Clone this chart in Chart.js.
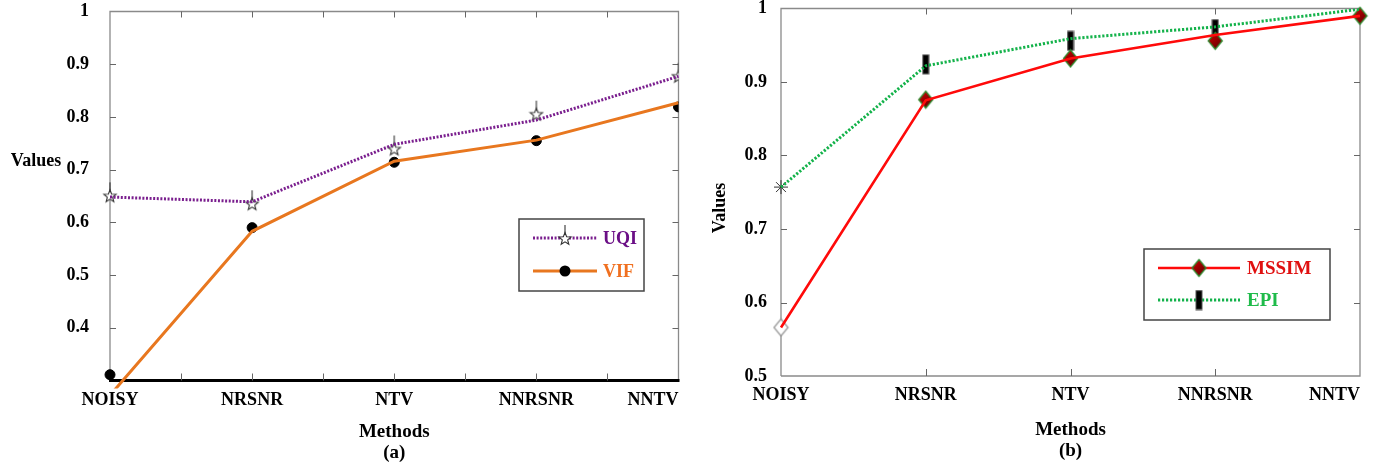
<!DOCTYPE html>
<html><head><meta charset="utf-8">
<script src="https://cdn.jsdelivr.net/npm/chart.js@4.4.1/dist/chart.umd.min.js"></script>
<style>
html,body{margin:0;padding:0;background:#fff;overflow:hidden;}
#ca{position:absolute;left:0;top:0;}
#cb{position:absolute;left:690px;top:0;}
</style></head><body>
<canvas id="ca" width="690" height="466"></canvas>
<canvas id="cb" width="685" height="466"></canvas>
<script>
// ---------- data ----------
const methods   = ['NOISY','NRSNR','NTV','NNRSNR','NNTV'];
// panel (a)
const uqiLine   = [0.648, 0.639, 0.748, 0.794, 0.877];
const uqiMarks  = [0.655, 0.640, 0.744, 0.810, 0.882];
const vifLine   = [0.272, 0.583, 0.716, 0.756, 0.827];
const vifMarks  = [0.311, 0.590, 0.714, 0.755, 0.819];
// panel (b)
const mssimLine  = [0.566, 0.875, 0.932, 0.964, 0.990];
const mssimMarks = [0.566, 0.876, 0.932, 0.956, 0.990];
const epiLine    = [0.757, 0.922, 0.959, 0.975, 0.999];
const epiMarks   = [0.757, 0.924, 0.956, 0.972, 0.999];
// tick marks
const yTickMarksA = [0.4, 0.5, 0.6, 0.7, 0.8, 0.9];
const xTickMarksA = [0.5, 1, 1.5, 2, 2.5, 3, 3.5];
const yTickMarksB = [0.6, 0.7, 0.8, 0.9];
const xTickMarksB = [1, 2, 3];

const SERIF = "'Liberation Serif','DejaVu Serif',serif";

// ---------- marker images ----------
function starImg(){
  const c=document.createElement('canvas'); c.width=16; c.height=24;
  const g=c.getContext('2d'); const cx=8, cy=15, R=6.5, r=2.8;
  g.beginPath();
  for(let i=0;i<10;i++){const a=-Math.PI/2+i*Math.PI/5; const rr=i%2?r:R; g.lineTo(cx+rr*Math.cos(a), cy+rr*Math.sin(a));}
  g.closePath(); g.fillStyle='#fff'; g.fill(); g.strokeStyle='#333'; g.lineWidth=1.1; g.stroke();
  g.beginPath(); g.moveTo(8,1); g.lineTo(8,9); g.stroke();
  return c;
}
function diamondImg(w,h,grad,fill,stroke){
  const c=document.createElement('canvas'); c.width=w+3; c.height=h+3;
  const g=c.getContext('2d'); const cx=c.width/2, cy=c.height/2;
  g.beginPath(); g.moveTo(cx,1.5); g.lineTo(c.width-1.5,cy); g.lineTo(cx,c.height-1.5); g.lineTo(1.5,cy); g.closePath();
  if(grad){const gr=g.createLinearGradient(0,0,c.width,c.height); gr.addColorStop(0,'#e00000'); gr.addColorStop(1,'#4a0000'); g.fillStyle=gr;}
  else g.fillStyle=fill;
  g.fill(); g.strokeStyle=stroke; g.lineWidth=1.3; g.stroke(); return c;
}
function barImg(){
  const c=document.createElement('canvas'); c.width=8; c.height=21;
  const g=c.getContext('2d'); g.fillStyle='#000'; g.fillRect(1,1,6,19);
  g.strokeStyle='#555'; g.lineWidth=1; g.strokeRect(1,1,6,19); return c;
}
const STAR = starImg();
const DIA = diamondImg(14,17,true,null,'#2e8b2e');
const DIA_H = diamondImg(14,17,false,'#fff','#999');
const BAR = barImg();

// ---------- plugins ----------
function framePlugin(o){
  return {
    id:'frame',
    beforeDraw(chart){
      const items = chart.scales.x.getLabelItems();
      if(items.length){ items[items.length-1].options.textAlign='right'; }
    },
    beforeDatasetsDraw(chart){
      const {ctx, chartArea:a, scales:{x,y}} = chart;
      ctx.save();
      ctx.strokeStyle='#8a8a8a'; ctx.lineWidth=1.3;
      ctx.beginPath();
      ctx.moveTo(a.left,a.bottom); ctx.lineTo(a.left,a.top); ctx.lineTo(a.right,a.top); ctx.lineTo(a.right,a.bottom);
      if(!o.thickBottom) ctx.lineTo(a.left,a.bottom);
      ctx.stroke();
      if(o.thickBottom){ ctx.strokeStyle='#000'; ctx.lineWidth=3; ctx.beginPath(); ctx.moveTo(a.left-1,a.bottom); ctx.lineTo(a.right+1,a.bottom); ctx.stroke(); }
      ctx.strokeStyle='#666'; ctx.lineWidth=1;
      ctx.beginPath();
      o.xTicks.forEach(v=>{const px=Math.round(x.getPixelForValue(v))+0.5; ctx.moveTo(px,a.top); ctx.lineTo(px,a.top+6); ctx.moveTo(px,a.bottom); ctx.lineTo(px,a.bottom-7);});
      o.yTicks.forEach(v=>{const py=Math.round(y.getPixelForValue(v))+0.5; ctx.moveTo(a.left,py); ctx.lineTo(a.left+6,py); ctx.moveTo(a.right,py); ctx.lineTo(a.right-6,py);});
      ctx.stroke();
      ctx.restore();
    },
    afterDraw(chart){
      const ctx = chart.ctx;
      ctx.save();
      // y title
      const t=o.yTitle;
      ctx.font='bold 18px '+SERIF; ctx.fillStyle='#000'; ctx.textAlign='center'; ctx.textBaseline='middle';
      ctx.translate(t.x,t.y); if(t.rotate) ctx.rotate(-Math.PI/2); ctx.fillText(t.text,0,0);
      ctx.setTransform(1,0,0,1,0,0);
      // legend
      const L=o.legend;
      ctx.fillStyle='#fff'; ctx.fillRect(L.box[0],L.box[1],L.box[2]-L.box[0],L.box[3]-L.box[1]);
      ctx.strokeStyle='#444'; ctx.lineWidth=1.5;
      ctx.strokeRect(L.box[0],L.box[1],L.box[2]-L.box[0],L.box[3]-L.box[1]);
      L.items.forEach(it=>{
        ctx.strokeStyle=it.color; ctx.lineWidth=it.width; ctx.setLineDash(it.dash||[]);
        ctx.beginPath(); ctx.moveTo(L.x0,it.y); ctx.lineTo(L.x1,it.y); ctx.stroke(); ctx.setLineDash([]);
        const mx=(L.x0+L.x1)/2;
        if(it.img){ ctx.drawImage(it.img, mx-it.img.width/2, it.y-it.img.height/2 + (it.imgDy||0)); }
        else { ctx.fillStyle='#000'; ctx.beginPath(); ctx.arc(mx,it.y,5.5,0,Math.PI*2); ctx.fill(); }
        ctx.font='bold '+L.fontSize+'px '+SERIF; ctx.fillStyle=it.textColor; ctx.textAlign='left'; ctx.textBaseline='middle';
        ctx.fillText(it.label, L.tx, it.y+1);
      });
      ctx.restore();
    }
  };
}

function baseOptions(p){
  return {
    responsive:false, animation:false,
    layout:{padding:{left:0,right:p.right,top:p.top,bottom:0}},
    plugins:{legend:{display:false}, tooltip:{enabled:false}, title:{display:false}},
    scales:{
      x:{type:'category', offset:false,
        grid:{display:false, drawTicks:false}, border:{display:false},
        ticks:{font:{family:SERIF,size:18,weight:'bold'}, color:'#000', padding:9, maxRotation:0, autoSkip:false},
        title:{display:true, text:['Methods',p.sub], color:'#000', font:{family:SERIF,size:19,weight:'bold',lineHeight:1.1}, padding:{top:0,bottom:p.titleBottom}},
        afterFit(s){ s.height=p.xh; s.paddingLeft=0; s.paddingRight=0; }
      },
      y:{type:'linear', min:p.ymin, max:1,
        grid:{display:false, drawTicks:false}, border:{display:false},
        ticks:{stepSize:0.1, font:{family:SERIF,size:18,weight:'bold'}, color:'#000', padding:p.ypad,
          callback:(v)=> (Math.abs(v-0.3)<1e-6) ? '' : String(Math.round(v*10)/10)},
        afterFit(s){ s.width=p.yw; s.paddingTop=0; s.paddingBottom=0; }
      }
    }
  };
}

// ---------- chart (a) ----------
new Chart(document.getElementById('ca'), {
  type:'line',
  data:{labels:methods, datasets:[
    {data:uqiLine, borderColor:'#7a1e8e', borderWidth:3, borderDash:[2,1.6], pointRadius:0, tension:0, fill:false},
    {data:vifLine, borderColor:'#e8771f', borderWidth:3, pointRadius:0, tension:0, fill:false, clip:{left:0,top:0,right:0,bottom:8}},
    {data:uqiMarks, showLine:false, pointStyle:STAR, pointRadius:6, clip:{left:20,top:20,right:0,bottom:20}},
    {data:vifMarks, showLine:false, pointStyle:'circle', pointRadius:5, backgroundColor:'#000', borderColor:'#000', borderWidth:1, clip:{left:20,top:20,right:0,bottom:20}}
  ]},
  options: baseOptions({right:11.5, top:11.5, xh:85.5, yw:110, ymin:0.3, ypad:21, sub:'(a)', titleBottom:2.5}),
  plugins:[framePlugin({
    thickBottom:true, xTicks:xTickMarksA, yTicks:yTickMarksA,
    yTitle:{text:'Values', x:36, y:161, rotate:false},
    legend:{box:[519,219,644,291], x0:533, x1:597, tx:603, fontSize:18, items:[
      {label:'UQI', color:'#7a1e8e', width:3, dash:[2,1.6], img:STAR, imgDy:-2, textColor:'#6b0f86', y:238},
      {label:'VIF', color:'#e8771f', width:3, textColor:'#f07020', y:271}
    ]}
  })]
});

// ---------- chart (b) ----------
new Chart(document.getElementById('cb'), {
  type:'line',
  data:{labels:methods, datasets:[
    {data:epiLine, borderColor:'#13b24a', borderWidth:3, borderDash:[2.2,1.8], pointRadius:0, tension:0, fill:false},
    {data:mssimLine, borderColor:'#ff0a0a', borderWidth:2.6, pointRadius:0, tension:0, fill:false},
    {data:mssimMarks, showLine:false, clip:false,
      pointStyle:(c)=> c.dataIndex===0 ? DIA_H : DIA, pointRadius:6},
    {data:epiMarks, showLine:false, clip:false,
      pointStyle:(c)=> c.dataIndex===0 ? 'star' : (c.dataIndex===4 ? false : BAR),
      pointRadius:(c)=> c.dataIndex===4 ? 0 : 7, borderColor:'#333', borderWidth:1, backgroundColor:'#333'}
  ]},
  options: baseOptions({right:15, top:8.5, xh:90, yw:91, ymin:0.5, ypad:14, sub:'(b)', titleBottom:4.5}),
  plugins:[framePlugin({
    thickBottom:false, xTicks:xTickMarksB, yTicks:yTickMarksB,
    yTitle:{text:'Values', x:30, y:208, rotate:true},
    legend:{box:[454,249,640,320], x0:468, x1:550, tx:557, fontSize:19, items:[
      {label:'MSSIM', color:'#ff0a0a', width:2.6, img:DIA, textColor:'#e01010', y:268},
      {label:'EPI', color:'#13b24a', width:3, dash:[2.2,1.8], img:BAR, textColor:'#1fbb4a', y:300}
    ]}
  })]
});
</script>
</body></html>
